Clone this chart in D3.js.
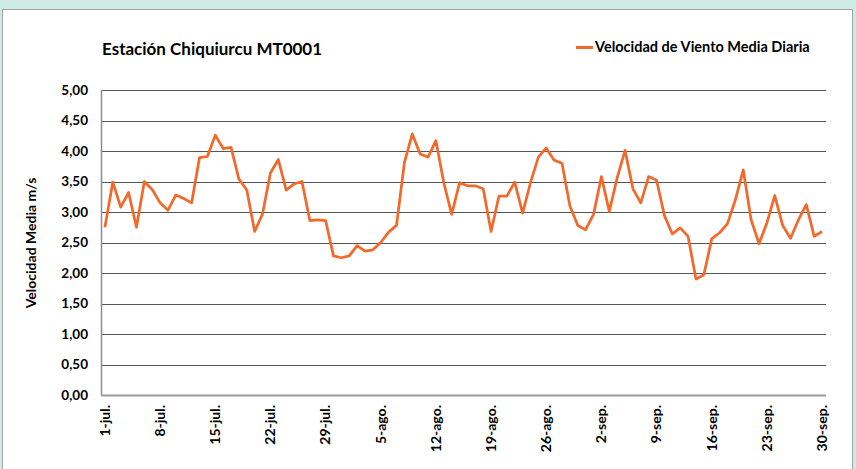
<!DOCTYPE html>
<html>
<head>
<meta charset="utf-8">
<script src="https://cdn.jsdelivr.net/npm/d3@7"></script>
<style>
  body { margin: 0; background: #cdeae5; }
  svg text { font-family: Lato, "Open Sans", sans-serif; font-weight: bold; fill: #000; }
</style>
</head>
<body>
<svg id="chart" width="856" height="469"></svg>
<script>
// velocidad media diaria, 1-jul a 30-sep (92 dias)
const velocidad = [
  2.75, 3.49, 3.08, 3.32, 2.75, 3.50, 3.37, 3.15, 3.03, 3.28, 3.22, 3.15, 3.89, 3.91, 4.26, 4.04,
  4.06, 3.54, 3.36, 2.68, 2.97, 3.64, 3.86, 3.36, 3.46, 3.50, 2.86, 2.87, 2.86, 2.28, 2.25,
  2.28, 2.45, 2.36, 2.38, 2.50, 2.67, 2.78, 3.81, 4.28, 3.95, 3.90, 4.17, 3.48, 2.96, 3.48,
  3.43, 3.43, 3.38, 2.68, 3.26, 3.26, 3.49, 2.98, 3.48, 3.90, 4.05, 3.85, 3.80, 3.10, 2.78,
  2.71, 2.96, 3.58, 3.01, 3.56, 4.01, 3.38, 3.15, 3.58, 3.52, 2.94, 2.64, 2.74, 2.60, 1.90,
  1.97, 2.56, 2.66, 2.81, 3.20, 3.69, 2.87, 2.48, 2.82, 3.27, 2.78, 2.57, 2.87, 3.12, 2.60, 2.68
];
const meses = ["jul.", "ago.", "sep."];
const diasPorMes = [31, 31, 30];
const yTicks = [0, 0.5, 1, 1.5, 2, 2.5, 3, 3.5, 4, 4.5, 5];
const titulo = "Estación Chiquiurcu MT0001";
const serieNombre = "Velocidad de Viento Media Diaria";
const yTitulo = "Velocidad Media m/s";

// categorias "1-jul." ... "30-sep."
const categorias = [];
diasPorMes.forEach((n, m) => {
  for (let d = 1; d <= n; d++) categorias.push(`${d}-${meses[m]}`);
});

const svg = d3.select("#chart");
const naranja = "#f26a2b";

const plotLeft = 101, plotRight = 826, plotTop = 90, plotBottom = 395;

// panel blanco
svg.append("rect")
  .attr("x", 2.5).attr("y", 9.5)
  .attr("width", 850).attr("height", 480)
  .attr("fill", "#fff")
  .attr("stroke", "#a3a3a3");

const x = d3.scaleBand()
  .domain(d3.range(categorias.length))
  .range([plotLeft, plotRight]);
const xc = (i) => x(i) + x.bandwidth() / 2;

const y = d3.scaleLinear().domain([0, 5]).range([plotBottom, plotTop]);
const fmt = (v) => d3.format(".2f")(v).replace(".", ",");

// gridlines
svg.append("g")
  .selectAll("line")
  .data(yTicks.filter((d) => d > 0))
  .join("line")
  .attr("x1", plotLeft).attr("x2", plotRight)
  .attr("y1", (d) => Math.round(y(d)) + 0.5)
  .attr("y2", (d) => Math.round(y(d)) + 0.5)
  .attr("stroke", "#555")
  .attr("stroke-width", 1);

// ejes
svg.append("line")
  .attr("x1", plotLeft + 0.5).attr("x2", plotLeft + 0.5)
  .attr("y1", plotTop).attr("y2", plotBottom)
  .attr("stroke", "#8c8c8c").attr("stroke-width", 1.5);
svg.append("line")
  .attr("x1", plotLeft).attr("x2", plotRight)
  .attr("y1", plotBottom + 0.5).attr("y2", plotBottom + 0.5)
  .attr("stroke", "#9a9a9a").attr("stroke-width", 2);

// y labels
svg.append("g")
  .selectAll("text")
  .data(yTicks)
  .join("text")
  .attr("x", 88)
  .attr("y", (d) => y(d))
  .attr("dy", "0.35em")
  .attr("text-anchor", "end")
  .attr("font-size", 13.5)
  .text(fmt);

// x labels cada 7 dias
const xTickIdx = d3.range(0, categorias.length, 7);
svg.append("g")
  .selectAll("text")
  .data(xTickIdx)
  .join("text")
  .attr("transform", (i) => `translate(${xc(i)},405) rotate(-90)`)
  .attr("dy", "0.35em")
  .attr("text-anchor", "end")
  .attr("font-size", 14)
  .text((i) => categorias[i]);

// linea
const line = d3.line()
  .x((d, i) => xc(i))
  .y((d) => y(d));

svg.append("path")
  .datum(velocidad)
  .attr("d", line)
  .attr("fill", "none")
  .attr("stroke", naranja)
  .attr("stroke-width", 2.75)
  .attr("stroke-linejoin", "round");

// titulo
svg.append("text")
  .attr("x", 102).attr("y", 55)
  .attr("font-size", 17)
  .text(titulo);

// leyenda
svg.append("line")
  .attr("x1", 576).attr("x2", 593)
  .attr("y1", 47.5).attr("y2", 47.5)
  .attr("stroke", naranja).attr("stroke-width", 3);
svg.append("text")
  .attr("x", 595).attr("y", 52)
  .attr("font-size", 14.5)
  .text(serieNombre);

// titulo eje y
svg.append("text")
  .attr("transform", "translate(36,243) rotate(-90)")
  .attr("text-anchor", "middle")
  .attr("font-size", 14)
  .text(yTitulo);
</script>
</body>
</html>
